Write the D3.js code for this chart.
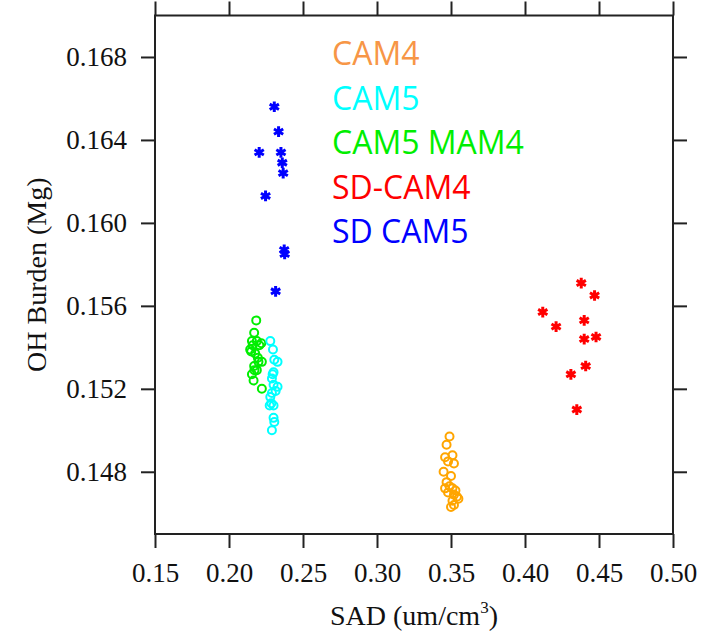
<!DOCTYPE html>
<html>
<head>
<meta charset="utf-8">
<script src="https://cdn.jsdelivr.net/npm/d3@7"></script>
<style>
  body { margin: 0; background: #fff; }
  svg { display: block; }
</style>
</head>
<body>
<div id="chart"></div>
<script>
// tick labels
const xTicks = [0.15, 0.20, 0.25, 0.30, 0.35, 0.40, 0.45, 0.50];
const yTicks = [0.148, 0.152, 0.156, 0.160, 0.164, 0.168];

// series values: [SAD, OH burden]
const cam4 = [
  [0.349, 0.1497], [0.347, 0.1493], [0.351, 0.1488], [0.346, 0.1487], [0.348, 0.1485],
  [0.352, 0.1484], [0.345, 0.1480], [0.350, 0.1478], [0.347, 0.1475], [0.346, 0.1472],
  [0.349, 0.1473], [0.351, 0.1472], [0.353, 0.1471], [0.348, 0.1470], [0.352, 0.1469],
  [0.354, 0.1468], [0.355, 0.1467], [0.351, 0.1466], [0.352, 0.1464], [0.350, 0.1463]
];
const cam5 = [
  [0.2279, 0.1543], [0.2297, 0.1539], [0.2306, 0.1534], [0.2328, 0.1533], [0.2301, 0.1528],
  [0.2290, 0.1525], [0.2301, 0.1522], [0.2328, 0.1521], [0.2290, 0.1518], [0.2279, 0.1516],
  [0.2301, 0.1512], [0.2301, 0.1506], [0.2306, 0.1504], [0.2290, 0.1500], [0.2286, 0.1513],
  [0.2275, 0.1512], [0.2315, 0.1519], [0.2295, 0.1527]
];
const cam5mam4 = [
  [0.2184, 0.1553], [0.2170, 0.1547], [0.2155, 0.1543], [0.2188, 0.1543], [0.2218, 0.1542],
  [0.2143, 0.1539], [0.2177, 0.1537], [0.2199, 0.1533], [0.2222, 0.1533], [0.2170, 0.1531],
  [0.2188, 0.1529], [0.2155, 0.1527], [0.2166, 0.1524], [0.2222, 0.1520], [0.2150, 0.1538],
  [0.2160, 0.1541], [0.2205, 0.1541], [0.2195, 0.1535], [0.2172, 0.1529]
];
const sdCam4 = [
  [0.438, 0.1571], [0.447, 0.1565], [0.412, 0.1557], [0.440, 0.1553], [0.421, 0.1550],
  [0.440, 0.1544], [0.448, 0.1545], [0.441, 0.1531], [0.431, 0.1527], [0.435, 0.1510]
];
const sdCam5 = [
  [0.2306, 0.1656], [0.2335, 0.1644], [0.2204, 0.1634], [0.2351, 0.1634], [0.2360, 0.1629],
  [0.2366, 0.1624], [0.2247, 0.1613], [0.2373, 0.1587], [0.2376, 0.1585], [0.2315, 0.1567]
];

const legendNames = ["CAM4", "CAM5", "CAM5 MAM4", "SD-CAM4", "SD CAM5"];

const width = 703, height = 635;
const margin = {left: 155, right: 30, top: 15.5, bottom: 101};

const svg = d3.select("#chart").append("svg")
  .attr("width", width)
  .attr("height", height);

const x = d3.scaleLinear().domain([0.15, 0.50]).range([margin.left, width - margin.right]);
const y = d3.scaleLinear().domain([0.145, 0.170]).range([height - margin.bottom, margin.top]);

const serif = "'Liberation Serif', 'Times New Roman', serif";

// frame
svg.append("rect")
  .attr("x", x(0.15)).attr("y", y(0.170))
  .attr("width", x(0.50) - x(0.15))
  .attr("height", y(0.145) - y(0.170))
  .attr("fill", "none")
  .attr("stroke", "#222")
  .attr("stroke-width", 2);

// axes with outward ticks on all four sides
const tickLen = 14;
const styleAxis = g => {
  g.select(".domain").remove();
  g.selectAll(".tick line").attr("stroke", "#222").attr("stroke-width", 2);
};

svg.append("g")
  .attr("transform", `translate(0,${y(0.145)})`)
  .call(d3.axisBottom(x).tickValues(xTicks).tickSize(tickLen).tickPadding(15).tickFormat(d3.format(".2f")))
  .call(styleAxis)
  .call(g => g.selectAll("text").attr("font-family", serif).attr("font-size", 27).attr("fill", "#111"));

svg.append("g")
  .attr("transform", `translate(0,${y(0.170)})`)
  .call(d3.axisTop(x).tickValues(xTicks).tickSize(tickLen).tickFormat(""))
  .call(styleAxis);

svg.append("g")
  .attr("transform", `translate(${x(0.15)},0)`)
  .call(d3.axisLeft(y).tickValues(yTicks).tickSize(tickLen).tickPadding(14).tickFormat(d3.format(".3f")))
  .call(styleAxis)
  .call(g => g.selectAll("text").attr("font-family", serif).attr("font-size", 27).attr("fill", "#111"));

svg.append("g")
  .attr("transform", `translate(${x(0.50)},0)`)
  .call(d3.axisRight(y).tickValues(yTicks).tickSize(tickLen).tickFormat(""))
  .call(styleAxis);

// axis titles
const xt = svg.append("text")
  .attr("x", (x(0.15) + x(0.50)) / 2)
  .attr("y", 625)
  .attr("text-anchor", "middle")
  .attr("font-family", serif)
  .attr("font-size", 28)
  .attr("fill", "#111");
xt.append("tspan").text("SAD (um/cm");
xt.append("tspan").attr("dy", -12).attr("font-size", 17).text("3");
xt.append("tspan").attr("dy", 12).text(")");

svg.append("text")
  .attr("transform", `translate(46,${(y(0.145) + y(0.170)) / 2}) rotate(-90)`)
  .attr("text-anchor", "middle")
  .attr("font-family", serif)
  .attr("font-size", 28)
  .attr("fill", "#111")
  .text("OH Burden (Mg)");

// circles
const drawCircles = (data, color) => {
  svg.append("g").selectAll("circle")
    .data(data)
    .join("circle")
    .attr("cx", d => x(d[0]))
    .attr("cy", d => y(d[1]))
    .attr("r", 4)
    .attr("fill", "none")
    .attr("stroke", color)
    .attr("stroke-width", 2);
};

// asterisks
const star = d3.symbol().type(d3.symbolAsterisk).size(80);
const drawStars = (data, color) => {
  svg.append("g").selectAll("path")
    .data(data)
    .join("path")
    .attr("transform", d => `translate(${x(d[0])},${y(d[1])})`)
    .attr("d", star)
    .attr("fill", "none")
    .attr("stroke", color)
    .attr("stroke-width", 3);
};

drawCircles(cam4, "#ffa500");
drawCircles(cam5mam4, "#00ee00");
drawCircles(cam5, "#00ffff");
drawStars(sdCam4, "#ff0000");
drawStars(sdCam5, "#0000ff");

// legend as coloured text
const legendColors = ["#f79646", "#00ffff", "#00ee00", "#ff0000", "#0000ff"];
svg.append("g").selectAll("text")
  .data(legendNames)
  .join("text")
  .attr("x", 332)
  .attr("y", (d, i) => 65 + i * 44.5)
  .attr("font-family", "'Open Sans', 'Noto Sans', sans-serif")
  .attr("font-size", 32)
  .attr("fill", (d, i) => legendColors[i])
  .text(d => d);
</script>
</body>
</html>
